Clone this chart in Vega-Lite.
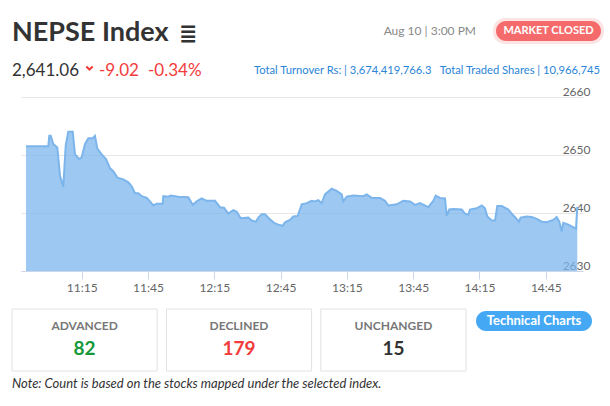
{
  "$schema": "https://vega.github.io/schema/vega-lite/v6.json",
  "width": 562,
  "height": 174,
  "autosize": "none",
  "padding": {"left": 21, "top": 97, "right": 27, "bottom": 135},
  "background": "white",
  "config": {"font": "Lato", "view": {"stroke": null}},
  "resolve": {"scale": {"x": "independent", "y": "independent", "color": "independent"}},
  "layer": [
    {
      "data": {
        "values": [
          {"time": "2023-08-10T10:49:48", "index": 2651.5},
          {"time": "2023-08-10T10:59:53", "index": 2651.5},
          {"time": "2023-08-10T11:00:20", "index": 2653.3},
          {"time": "2023-08-10T11:00:58", "index": 2653.3},
          {"time": "2023-08-10T11:02:09", "index": 2651.9},
          {"time": "2023-08-10T11:03:58", "index": 2651.3},
          {"time": "2023-08-10T11:05:11", "index": 2646.4},
          {"time": "2023-08-10T11:06:40", "index": 2644.5},
          {"time": "2023-08-10T11:07:46", "index": 2651.6},
          {"time": "2023-08-10T11:08:56", "index": 2654.0},
          {"time": "2023-08-10T11:10:56", "index": 2654.0},
          {"time": "2023-08-10T11:11:58", "index": 2650.1},
          {"time": "2023-08-10T11:13:55", "index": 2649.3},
          {"time": "2023-08-10T11:15:00", "index": 2649.6},
          {"time": "2023-08-10T11:16:30", "index": 2651.9},
          {"time": "2023-08-10T11:18:00", "index": 2652.9},
          {"time": "2023-08-10T11:20:00", "index": 2652.9},
          {"time": "2023-08-10T11:21:00", "index": 2653.3},
          {"time": "2023-08-10T11:22:04", "index": 2651.1},
          {"time": "2023-08-10T11:24:03", "index": 2650.1},
          {"time": "2023-08-10T11:26:00", "index": 2649.3},
          {"time": "2023-08-10T11:27:49", "index": 2647.7},
          {"time": "2023-08-10T11:29:18", "index": 2647.2},
          {"time": "2023-08-10T11:31:07", "index": 2646.1},
          {"time": "2023-08-10T11:33:49", "index": 2645.8},
          {"time": "2023-08-10T11:36:05", "index": 2645.3},
          {"time": "2023-08-10T11:37:37", "index": 2644.6},
          {"time": "2023-08-10T11:39:07", "index": 2643.4},
          {"time": "2023-08-10T11:40:37", "index": 2643.4},
          {"time": "2023-08-10T11:42:09", "index": 2642.9},
          {"time": "2023-08-10T11:44:25", "index": 2642.6},
          {"time": "2023-08-10T11:45:54", "index": 2642.0},
          {"time": "2023-08-10T11:47:24", "index": 2641.3},
          {"time": "2023-08-10T11:48:56", "index": 2641.6},
          {"time": "2023-08-10T11:51:39", "index": 2641.6},
          {"time": "2023-08-10T11:51:55", "index": 2642.9},
          {"time": "2023-08-10T11:54:11", "index": 2642.8},
          {"time": "2023-08-10T11:55:16", "index": 2643.0},
          {"time": "2023-08-10T11:58:43", "index": 2642.8},
          {"time": "2023-08-10T12:03:14", "index": 2642.7},
          {"time": "2023-08-10T12:05:14", "index": 2641.4},
          {"time": "2023-08-10T12:07:02", "index": 2642.0},
          {"time": "2023-08-10T12:09:18", "index": 2642.5},
          {"time": "2023-08-10T12:11:34", "index": 2642.1},
          {"time": "2023-08-10T12:15:19", "index": 2642.1},
          {"time": "2023-08-10T12:17:35", "index": 2641.0},
          {"time": "2023-08-10T12:19:23", "index": 2640.9},
          {"time": "2023-08-10T12:21:20", "index": 2639.9},
          {"time": "2023-08-10T12:23:36", "index": 2640.5},
          {"time": "2023-08-10T12:25:08", "index": 2640.2},
          {"time": "2023-08-10T12:26:57", "index": 2639.1},
          {"time": "2023-08-10T12:30:23", "index": 2639.2},
          {"time": "2023-08-10T12:31:55", "index": 2638.7},
          {"time": "2023-08-10T12:33:52", "index": 2638.5},
          {"time": "2023-08-10T12:34:55", "index": 2639.2},
          {"time": "2023-08-10T12:36:27", "index": 2639.8},
          {"time": "2023-08-10T12:37:56", "index": 2639.8},
          {"time": "2023-08-10T12:39:53", "index": 2639.0},
          {"time": "2023-08-10T12:42:01", "index": 2638.3},
          {"time": "2023-08-10T12:43:58", "index": 2638.0},
          {"time": "2023-08-10T12:45:57", "index": 2637.8},
          {"time": "2023-08-10T12:46:59", "index": 2638.4},
          {"time": "2023-08-10T12:49:15", "index": 2638.8},
          {"time": "2023-08-10T12:50:45", "index": 2639.4},
          {"time": "2023-08-10T12:52:44", "index": 2639.5},
          {"time": "2023-08-10T12:53:28", "index": 2640.3},
          {"time": "2023-08-10T12:54:33", "index": 2641.5},
          {"time": "2023-08-10T12:56:49", "index": 2641.7},
          {"time": "2023-08-10T12:59:04", "index": 2642.1},
          {"time": "2023-08-10T13:00:34", "index": 2642.0},
          {"time": "2023-08-10T13:02:04", "index": 2642.2},
          {"time": "2023-08-10T13:03:36", "index": 2641.7},
          {"time": "2023-08-10T13:05:05", "index": 2643.2},
          {"time": "2023-08-10T13:08:07", "index": 2644.2},
          {"time": "2023-08-10T13:10:23", "index": 2643.8},
          {"time": "2023-08-10T13:12:39", "index": 2643.2},
          {"time": "2023-08-10T13:13:22", "index": 2642.0},
          {"time": "2023-08-10T13:14:55", "index": 2642.8},
          {"time": "2023-08-10T13:17:54", "index": 2643.0},
          {"time": "2023-08-10T13:22:25", "index": 2642.9},
          {"time": "2023-08-10T13:23:58", "index": 2643.2},
          {"time": "2023-08-10T13:26:13", "index": 2642.6},
          {"time": "2023-08-10T13:29:59", "index": 2642.6},
          {"time": "2023-08-10T13:32:14", "index": 2642.1},
          {"time": "2023-08-10T13:33:44", "index": 2641.3},
          {"time": "2023-08-10T13:37:32", "index": 2641.5},
          {"time": "2023-08-10T13:40:31", "index": 2642.1},
          {"time": "2023-08-10T13:43:33", "index": 2642.0},
          {"time": "2023-08-10T13:45:49", "index": 2641.4},
          {"time": "2023-08-10T13:48:05", "index": 2641.7},
          {"time": "2023-08-10T13:51:50", "index": 2641.0},
          {"time": "2023-08-10T13:54:06", "index": 2642.1},
          {"time": "2023-08-10T13:55:11", "index": 2643.0},
          {"time": "2023-08-10T13:57:08", "index": 2642.6},
          {"time": "2023-08-10T13:59:23", "index": 2642.5},
          {"time": "2023-08-10T14:00:10", "index": 2639.5},
          {"time": "2023-08-10T14:01:20", "index": 2640.6},
          {"time": "2023-08-10T14:03:08", "index": 2640.7},
          {"time": "2023-08-10T14:06:57", "index": 2640.6},
          {"time": "2023-08-10T14:08:26", "index": 2639.9},
          {"time": "2023-08-10T14:09:56", "index": 2639.7},
          {"time": "2023-08-10T14:10:42", "index": 2640.6},
          {"time": "2023-08-10T14:13:44", "index": 2640.8},
          {"time": "2023-08-10T14:15:59", "index": 2641.3},
          {"time": "2023-08-10T14:17:29", "index": 2640.8},
          {"time": "2023-08-10T14:18:32", "index": 2639.4},
          {"time": "2023-08-10T14:20:31", "index": 2638.7},
          {"time": "2023-08-10T14:22:01", "index": 2638.7},
          {"time": "2023-08-10T14:23:03", "index": 2641.2},
          {"time": "2023-08-10T14:25:03", "index": 2641.2},
          {"time": "2023-08-10T14:28:02", "index": 2640.6},
          {"time": "2023-08-10T14:29:34", "index": 2639.9},
          {"time": "2023-08-10T14:31:31", "index": 2639.1},
          {"time": "2023-08-10T14:32:52", "index": 2638.5},
          {"time": "2023-08-10T14:33:38", "index": 2639.2},
          {"time": "2023-08-10T14:36:21", "index": 2639.4},
          {"time": "2023-08-10T14:38:37", "index": 2639.3},
          {"time": "2023-08-10T14:40:53", "index": 2639.0},
          {"time": "2023-08-10T14:43:08", "index": 2638.5},
          {"time": "2023-08-10T14:45:24", "index": 2638.4},
          {"time": "2023-08-10T14:48:23", "index": 2638.8},
          {"time": "2023-08-10T14:49:56", "index": 2639.3},
          {"time": "2023-08-10T14:51:07", "index": 2638.5},
          {"time": "2023-08-10T14:52:11", "index": 2636.8},
          {"time": "2023-08-10T14:52:55", "index": 2638.3},
          {"time": "2023-08-10T14:55:11", "index": 2638.0},
          {"time": "2023-08-10T14:56:43", "index": 2637.7},
          {"time": "2023-08-10T14:58:40", "index": 2637.3},
          {"time": "2023-08-10T14:59:15", "index": 2641.06}
        ]
      },
      "mark": {
        "type": "area",
        "color": "#7cb5ec",
        "fillOpacity": 0.75,
        "clip": true,
        "line": {"color": "#7cb5ec", "strokeWidth": 2, "clip": true}
      },
      "encoding": {
        "x": {
          "field": "time",
          "type": "temporal",
          "title": null,
          "scale": {
            "domain": [
              {"year": 2023, "month": 8, "date": 10, "hours": 10, "minutes": 47, "seconds": 32},
              {"year": 2023, "month": 8, "date": 10, "hours": 15, "minutes": 1, "seconds": 50}
            ]
          },
          "axis": {
            "values": [
              {"year": 2023, "month": 8, "date": 10, "hours": 11, "minutes": 15},
              {"year": 2023, "month": 8, "date": 10, "hours": 11, "minutes": 45},
              {"year": 2023, "month": 8, "date": 10, "hours": 12, "minutes": 15},
              {"year": 2023, "month": 8, "date": 10, "hours": 12, "minutes": 45},
              {"year": 2023, "month": 8, "date": 10, "hours": 13, "minutes": 15},
              {"year": 2023, "month": 8, "date": 10, "hours": 13, "minutes": 45},
              {"year": 2023, "month": 8, "date": 10, "hours": 14, "minutes": 15},
              {"year": 2023, "month": 8, "date": 10, "hours": 14, "minutes": 45}
            ],
            "format": "%H:%M",
            "grid": false,
            "domainColor": "#ccd6eb",
            "tickColor": "#ccd6eb",
            "tickSize": 8,
            "labelPadding": 3,
            "labelColor": "#666666",
            "labelFontSize": 12,
            "labelFont": "Lato"
          }
        },
        "y": {
          "field": "index",
          "type": "quantitative",
          "title": null,
          "scale": {"domain": [2630, 2660], "nice": false, "zero": false},
          "axis": {
            "orient": "right",
            "values": [2630, 2640, 2650, 2660],
            "format": "d",
            "domain": false,
            "ticks": false,
            "tickSize": 0,
            "gridColor": "#e6e6e6",
            "labelAlign": "right",
            "labelBaseline": "alphabetic",
            "labelOffset": -2,
            "labelPadding": 7,
            "labelColor": "#666666",
            "labelFontSize": 12,
            "labelFont": "Lato"
          }
        },
        "y2": {"datum": 2630}
      }
    },
    {
      "data": {"values": [{}]},
      "mark": {"type": "text", "align": "left", "baseline": "alphabetic", "fontSize": 27, "fontWeight": "bold", "color": "#333333"},
      "encoding": {"x": {"value": -9}, "y": {"value": -56}, "text": {"value": "NEPSE Index"}}
    },
    {
      "data": {"values": [{}]},
      "mark": {"type": "text", "align": "left", "baseline": "alphabetic", "font": "DejaVu Sans", "fontSize": 22, "fontWeight": "bold", "color": "#333333"},
      "encoding": {"x": {"value": 158}, "y": {"value": -56}, "text": {"value": "≣"}}
    },
    {
      "data": {"values": [{}]},
      "mark": {"type": "text", "align": "left", "baseline": "alphabetic", "fontSize": 17, "color": "#333333"},
      "encoding": {"x": {"value": -9}, "y": {"value": -21}, "text": {"value": "2,641.06"}}
    },
    {
      "data": {"values": [{}]},
      "mark": {"type": "point", "shape": "M-1,-0.5L0,0.5L1,-0.5", "filled": false, "size": 40, "strokeWidth": 2, "color": "#f23b3b", "opacity": 1},
      "encoding": {"x": {"value": 68.5}, "y": {"value": -29}}
    },
    {
      "data": {"values": [{}]},
      "mark": {"type": "text", "align": "left", "baseline": "alphabetic", "fontSize": 17, "color": "#f23b3b"},
      "encoding": {"x": {"value": 78}, "y": {"value": -21}, "text": {"value": "-9.02"}}
    },
    {
      "data": {"values": [{}]},
      "mark": {"type": "text", "align": "left", "baseline": "alphabetic", "fontSize": 17, "color": "#f23b3b"},
      "encoding": {"x": {"value": 127}, "y": {"value": -21}, "text": {"value": "-0.34%"}}
    },
    {
      "data": {"values": [{}]},
      "mark": {"type": "text", "align": "right", "baseline": "alphabetic", "fontSize": 12, "color": "#888888"},
      "encoding": {"x": {"value": 455}, "y": {"value": -62}, "text": {"value": "Aug 10 | 3:00 PM"}}
    },
    {
      "data": {"values": [{}]},
      "mark": {"type": "rect", "cornerRadius": 12, "color": "#f56b6b", "opacity": 0.18},
      "encoding": {"x": {"value": 472}, "x2": {"value": 583}, "y": {"value": -79}, "y2": {"value": -53}}
    },
    {
      "data": {"values": [{}]},
      "mark": {"type": "rect", "cornerRadius": 10, "color": "#f56b6b", "opacity": 1},
      "encoding": {"x": {"value": 475}, "x2": {"value": 580}, "y": {"value": -76}, "y2": {"value": -56}}
    },
    {
      "data": {"values": [{}]},
      "mark": {"type": "text", "align": "center", "baseline": "middle", "fontSize": 11, "fontWeight": "bold", "color": "white"},
      "encoding": {"x": {"value": 527.5}, "y": {"value": -66}, "text": {"value": "MARKET CLOSED"}}
    },
    {
      "data": {"values": [{}]},
      "mark": {"type": "text", "align": "right", "baseline": "alphabetic", "fontSize": 11.2, "color": "#2a85d8"},
      "encoding": {"x": {"value": 579}, "y": {"value": -23}, "text": {"value": "Total Turnover Rs: | 3,674,419,766.3\u00a0\u00a0\u00a0Total Traded Shares | 10,966,745"}}
    },
    {
      "data": {
        "values": [
          {"label": "ADVANCED", "count": 82},
          {"label": "DECLINED", "count": 179},
          {"label": "UNCHANGED", "count": 15}
        ]
      },
      "encoding": {
        "x": {
          "field": "label",
          "type": "nominal",
          "sort": null,
          "axis": null,
          "scale": {"type": "band", "range": [-9, 445], "paddingInner": 0.06, "paddingOuter": 0}
        }
      },
      "layer": [
        {
          "mark": {"type": "rect", "fill": "white", "stroke": "#e2e2e2", "strokeWidth": 1},
          "encoding": {"y": {"value": 212}, "y2": {"value": 274}}
        },
        {
          "mark": {"type": "text", "align": "center", "baseline": "middle", "fontSize": 12, "fontWeight": "bold", "color": "#777777"},
          "encoding": {"y": {"value": 229}, "text": {"field": "label"}}
        },
        {
          "mark": {"type": "text", "align": "center", "baseline": "middle", "fontSize": 19, "fontWeight": "bold"},
          "encoding": {
            "y": {"value": 252},
            "text": {"field": "count", "type": "quantitative"},
            "color": {
              "field": "label",
              "type": "nominal",
              "legend": null,
              "scale": {"domain": ["ADVANCED", "DECLINED", "UNCHANGED"], "range": ["#17993a", "#f23b3b", "#333333"]}
            }
          }
        }
      ]
    },
    {
      "data": {"values": [{}]},
      "mark": {"type": "rect", "cornerRadius": 10, "color": "#45a8f4", "opacity": 1},
      "encoding": {"x": {"value": 455}, "x2": {"value": 571}, "y": {"value": 214}, "y2": {"value": 234}}
    },
    {
      "data": {"values": [{}]},
      "mark": {"type": "text", "align": "center", "baseline": "middle", "fontSize": 13, "fontWeight": "bold", "color": "white"},
      "encoding": {"x": {"value": 513}, "y": {"value": 224}, "text": {"value": "Technical Charts"}}
    },
    {
      "data": {"values": [{}]},
      "mark": {"type": "text", "align": "left", "baseline": "alphabetic", "fontSize": 13, "fontStyle": "italic", "color": "#333333"},
      "encoding": {"x": {"value": -9}, "y": {"value": 291}, "text": {"value": "Note: Count is based on the stocks mapped under the selected index."}}
    }
  ]
}
